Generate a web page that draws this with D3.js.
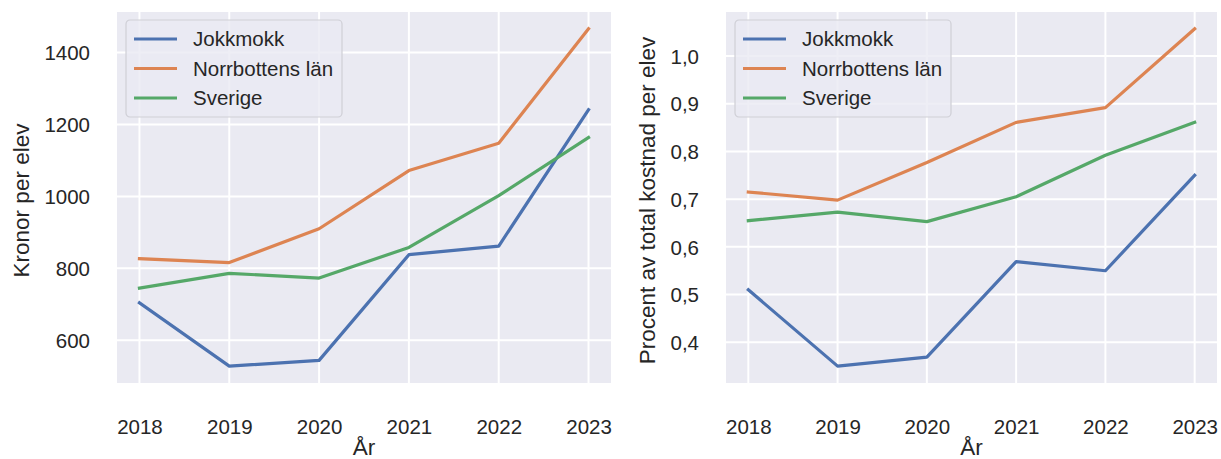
<!DOCTYPE html>
<html>
<head>
<meta charset="utf-8">
<script src="https://cdn.jsdelivr.net/npm/d3@7"></script>
<style>
  body { margin: 0; background: #fff; }
  text { font-family: Arial, "Liberation Sans", sans-serif; fill: #262626; }
</style>
</head>
<body>
<svg id="chart" width="1221" height="459"></svg>
<script>
var years = [2018, 2019, 2020, 2021, 2022, 2023];
var seriesNames = ["Jokkmokk", "Norrbottens län", "Sverige"];
var colors = ["#4C72B0", "#DD8452", "#55A868"];

// kronor per elev
var kronorJokkmokk = [704, 528, 544, 838, 862, 1241];
var kronorNorrbotten = [827, 816, 910, 1072, 1148, 1466];
var kronorSverige = [745, 786, 773, 858, 1002, 1164];
var kronorTicks = [600, 800, 1000, 1200, 1400];

// procent av total kostnad per elev
var procentJokkmokk = [0.51, 0.35, 0.369, 0.569, 0.55, 0.75];
var procentNorrbotten = [0.715, 0.698, 0.777, 0.861, 0.892, 1.057];
var procentSverige = [0.655, 0.673, 0.653, 0.705, 0.792, 0.861];
var procentTicks = [0.4, 0.5, 0.6, 0.7, 0.8, 0.9, 1.0];

var sv = d3.formatLocale({decimal: ",", thousands: "\u00a0", grouping: [3], currency: ["", " kr"]});

var svg = d3.select("#chart");

function panel(left, right, top, bottom, series, yTicks, yFmt, yLabel, labelX) {
  var all = d3.merge(series);
  var lo = d3.min(all), hi = d3.max(all), m = (hi - lo) * 0.05;

  var x = d3.scaleLinear().domain([2017.75, 2023.25]).range([left, right]);
  var y = d3.scaleLinear().domain([lo - m, hi + m]).range([bottom, top]);

  var g = svg.append("g");

  g.append("rect")
    .attr("x", left).attr("y", top)
    .attr("width", right - left).attr("height", bottom - top)
    .attr("fill", "#EAEAF2");

  // grid
  g.append("g").selectAll("line").data(years).enter().append("line")
    .attr("x1", d => x(d)).attr("x2", d => x(d))
    .attr("y1", top).attr("y2", bottom)
    .attr("stroke", "#fff").attr("stroke-width", 2);
  g.append("g").selectAll("line").data(yTicks).enter().append("line")
    .attr("x1", left).attr("x2", right)
    .attr("y1", d => y(d)).attr("y2", d => y(d))
    .attr("stroke", "#fff").attr("stroke-width", 2);

  var xAxis = d3.axisBottom(x).tickValues(years).tickFormat(d3.format("d")).tickSize(0).tickPadding(36);
  var yAxis = d3.axisLeft(y).tickValues(yTicks).tickFormat(yFmt).tickSize(0).tickPadding(27);

  g.append("g").attr("transform", "translate(0," + bottom + ")").call(xAxis)
    .call(a => a.select(".domain").remove())
    .selectAll("text").style("font-size", "20.5px").attr("fill", "#262626");
  g.append("g").attr("transform", "translate(" + left + ",0)").call(yAxis)
    .call(a => a.select(".domain").remove())
    .selectAll("text").style("font-size", "20.5px").attr("fill", "#262626").attr("dy", "0.35em");

  // lines
  var line = d3.line().x((d, i) => x(years[i])).y(d => y(d));
  g.append("g").selectAll("path").data(series).enter().append("path")
    .attr("d", line)
    .attr("fill", "none")
    .attr("stroke", (d, i) => colors[i])
    .attr("stroke-width", 3.2)
    .attr("stroke-linejoin", "round")
    .attr("stroke-linecap", "square");

  // axis labels
  g.append("text")
    .attr("x", (left + right) / 2).attr("y", 455)
    .attr("text-anchor", "middle")
    .style("font-size", "22.5px")
    .text("År");
  g.append("text")
    .attr("transform", "translate(" + labelX + "," + ((top + bottom) / 2 + 3) + ") rotate(-90)")
    .attr("text-anchor", "middle")
    .attr("dy", "0.35em")
    .style("font-size", "22.5px")
    .text(yLabel);

  // legend
  var lg = g.append("g").attr("transform", "translate(" + (left + 9) + "," + (top + 8) + ")");
  lg.append("rect")
    .attr("x", 0).attr("y", 0).attr("width", 216).attr("height", 97)
    .attr("rx", 4)
    .attr("fill", "#EAEAF2").attr("fill-opacity", 0.8)
    .attr("stroke", "#CFCFD6").attr("stroke-width", 1.2);
  var row = lg.selectAll("g.row").data(seriesNames).enter().append("g")
    .attr("class", "row")
    .attr("transform", (d, i) => "translate(0," + (19 + i * 29.5) + ")");
  row.append("line")
    .attr("x1", 8).attr("x2", 51).attr("y1", 0).attr("y2", 0)
    .attr("stroke", (d, i) => colors[i]).attr("stroke-width", 3.2);
  row.append("text")
    .attr("x", 67).attr("y", 0).attr("dy", "0.35em")
    .style("font-size", "20.5px")
    .text(d => d);
}

panel(117, 611, 12, 383, [kronorJokkmokk, kronorNorrbotten, kronorSverige],
      kronorTicks, d3.format("d"), "Kronor per elev", 21);
panel(726, 1217, 12, 383, [procentJokkmokk, procentNorrbotten, procentSverige],
      procentTicks, sv.format(".1f"), "Procent av total kostnad per elev", 647);
</script>
</body>
</html>
